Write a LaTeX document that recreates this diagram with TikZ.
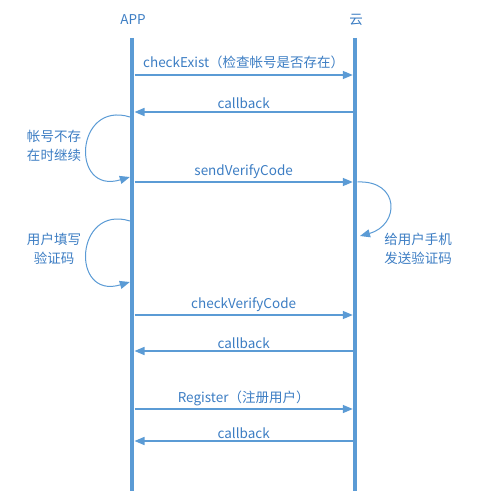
\documentclass[tikz,border=0pt]{standalone}
\usepackage{fontspec}
\setmainfont{Noto Sans CJK SC}
\usetikzlibrary{arrows.meta}
\definecolor{linie}{RGB}{91,155,213}
\definecolor{schrift}{RGB}{60,125,195}

\begin{document}
\begin{tikzpicture}[x=1pt,y=-1pt,
  every node/.style={text=schrift,font=\fontsize{13.5}{19}\selectfont},
  leben/.style={draw=linie,line width=4.5pt},
  nachricht/.style={draw=linie,line width=1.5pt,-{Triangle[length=10pt,width=8pt]}},
  schleife/.style={draw=linie,line width=1pt,-{Triangle[length=10pt,width=8pt]}},
  oben/.style={midway,anchor=base,yshift=7pt},
  zurueck/.style={midway,anchor=base,yshift=3pt}]
  \useasboundingbox (0,0) rectangle (489,500);
 \node (app) at (133,20) {APP};
 \node (wolke) at (356,20) {云};
 \draw[leben] (132,38) -- (132,491);
 \draw[leben] (355,38) -- (355,491);
% Punkte auf den Lebenslinien
 \foreach \n/\y in {1/75,2/112,3/182,4/315,5/351,6/409,7/441} {
   \coordinate (a\n) at (134.5,\y);
   \coordinate (w\n) at (352.8,\y);
 }
 \draw[nachricht] (a1) -- node[oben] {checkExist（检查帐号是否存在）} (w1);
 \draw[nachricht] (w2) -- node[zurueck] {callback} (a2);
 \draw[nachricht] (a3) -- node[oben] {sendVerifyCode} (w3);
 \draw[nachricht] (a4) -- node[oben] {checkVerifyCode} (w4);
 \draw[nachricht] (w5) -- node[zurueck] {callback} (a5);
 \draw[nachricht] (a6) -- node[oben] {Register（注册用户）} (w6);
 \draw[nachricht] (w7) -- node[zurueck] {callback} (a7);
% Schleifen
 \coordinate (s1) at (130,117);
 \coordinate (e1) at (129.8,177);
 \coordinate (s2) at (357.5,182);
 \coordinate (e2) at (360,236);
 \coordinate (s3) at (130,221);
 \coordinate (e3) at (129.8,282);
 \draw[schleife] (s1) .. controls (75,100) and (70,195) .. (e1);
 \draw[schleife] (s2) .. controls (400,180) and (400,225) .. (e2);
 \draw[schleife] (s3) .. controls (75,204) and (70,300) .. (e3);
 \node[align=center] (t1) at (54,146) {帐号不存\\在时继续};
 \node[align=center] (t2) at (54,249) {用户填写\\验证码};
 \node[align=center] (t3) at (418,249) {给用户手机\\发送验证码};
\end{tikzpicture}
\end{document}
